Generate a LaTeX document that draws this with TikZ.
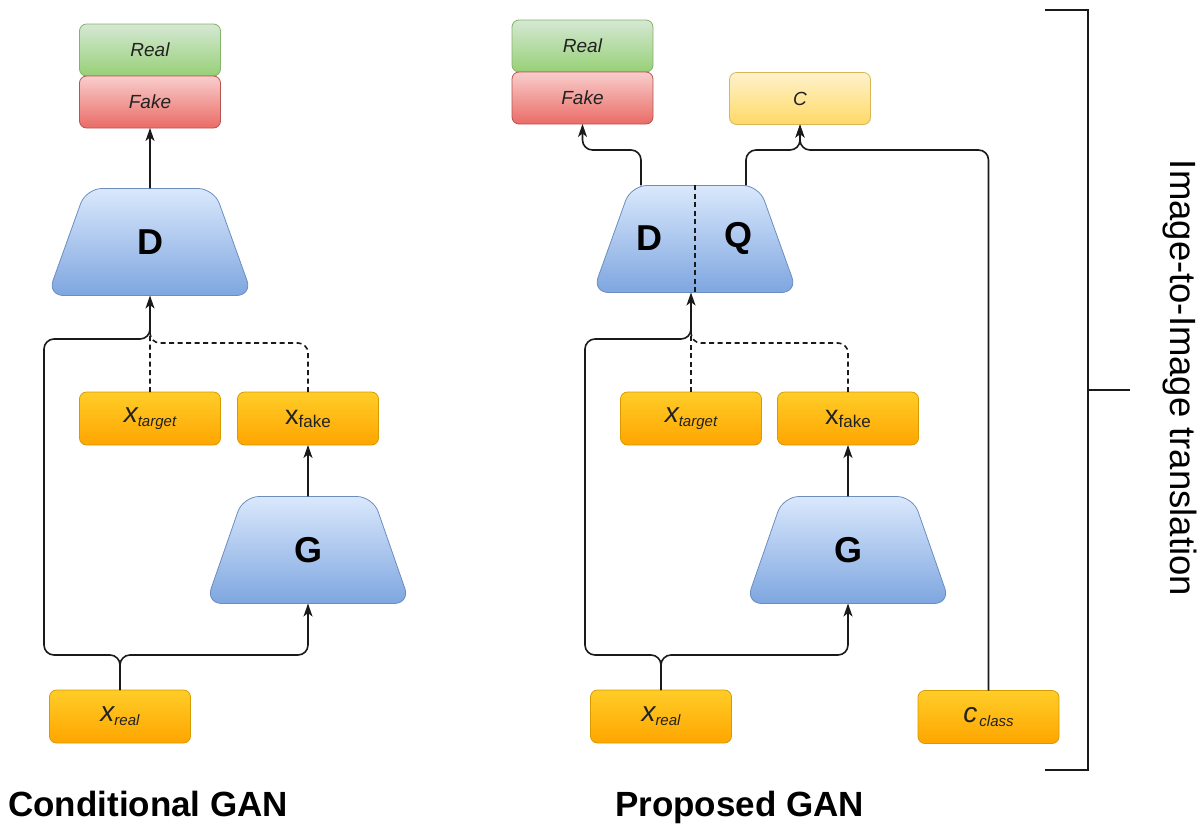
\documentclass[tikz,border=0pt]{standalone}
\usepackage{fontspec}
\setmainfont{Liberation Sans}
\usetikzlibrary{arrows.meta,shapes.geometric}

\definecolor{grnTop}{HTML}{D5E8D4}
\definecolor{grnBot}{HTML}{97D077}
\definecolor{grnLine}{HTML}{82B366}
\definecolor{redTop}{HTML}{F8CECC}
\definecolor{redBot}{HTML}{EA6B66}
\definecolor{redLine}{HTML}{B85450}
\definecolor{bluTop}{HTML}{DAE8FC}
\definecolor{bluBot}{HTML}{7EA6E0}
\definecolor{bluLine}{HTML}{6C8EBF}
\definecolor{orTop}{HTML}{FFCD28}
\definecolor{orBot}{HTML}{FFA500}
\definecolor{orLine}{HTML}{D79B00}
\definecolor{ylwTop}{HTML}{FFF2CC}
\definecolor{ylwBot}{HTML}{FFD966}
\definecolor{ylwLine}{HTML}{D6B656}
\definecolor{wireCol}{HTML}{1A1A1A}
\definecolor{txtCol}{HTML}{222222}

\newcommand\myfs[1]{\fontsize{#1}{#1}\selectfont}
% italic variable with a lowered italic subscript
\newcommand\ivar[2]{{\myfs{28}\itshape #1}{\myfs{15}\itshape\raisebox{-4pt}{#2}}}

\begin{document}
\begin{tikzpicture}[x=1pt,y=-1pt,
  box/.style={rectangle, rounded corners=7pt, minimum width=141pt, minimum height=52pt,
    inner sep=0pt, outer sep=0pt, line width=0.8pt, text=txtCol},
  greenbox/.style={box, draw=grnLine, top color=grnTop, bottom color=grnBot, font=\myfs{19}\itshape},
  redbox/.style={box, draw=redLine, top color=redTop, bottom color=redBot, font=\myfs{19}\itshape},
  yellowbox/.style={box, draw=ylwLine, top color=ylwTop, bottom color=ylwBot, font=\myfs{19}\itshape},
  orangebox/.style={box, minimum height=53pt, draw=orLine, top color=orTop, bottom color=orBot},
  trap/.style={trapezium, trapezium stretches=true, trapezium left angle=72.5,
    trapezium right angle=72.5, minimum width=205pt, minimum height=107pt,
    inner sep=0pt, outer sep=0pt, rounded corners=16pt, line width=0.8pt,
    draw=bluLine, top color=bluTop, bottom color=bluBot, font=\myfs{36}\bfseries},
  wire/.style={draw=wireCol, line width=1.6pt, rounded corners=10pt},
  arr/.style={-{Stealth[length=13pt,width=9pt,inset=3.5pt]}},
  dashline/.style={dash pattern=on 5pt off 3.5pt},
  title/.style={font=\myfs{35}\bfseries, anchor=base west, inner sep=0pt},
]
\useasboundingbox (0,0) rectangle (1203,823);

%% ---------------- Conditional GAN ----------------
\node[greenbox] (realL) at (150,50) {Real};
\node[redbox]   (fakeL) at (150,102) {Fake};
\node[trap]     (D)     at (150,242) {D};
\node[orangebox] (xtargetL) at (150,418.5) {\ivar{x}{target}};
\node[orangebox] (xfakeL)   at (308,418.5) {{\myfs{27}x}{\myfs{17}\raisebox{-3pt}{fake}}};
\node[trap]     (G)     at (308,550) {G};
\node[orangebox] (xrealL)   at (120,716.5) {\ivar{x}{real}};

\coordinate (railL) at (44,655);
\coordinate (upL)   at (44,339);
\coordinate (dashL) at (0,343);

\draw[wire,arr] (D.north) -- (fakeL.south);
\draw[wire,arr] (G.north) -- (xfakeL.south);
\draw[wire,arr] (xrealL.north) -- (xrealL.north |- railL) -- (railL) -- (upL)
  -- (D.south |- upL) -- (D.south);
\draw[wire,arr] (xrealL.north) -- (xrealL.north |- railL) -- (G.south |- railL) -- (G.south);
\draw[wire,dashline] (xtargetL.north) -- ([yshift=-18pt]D.south);
\draw[wire,dashline] (xfakeL.north) -- (xfakeL.north |- dashL) -- (D.south |- dashL)
  -- ([yshift=-18pt]D.south);

\node[title] (titleL) at (8,816) {Conditional GAN};

%% ---------------- Proposed GAN ----------------
\node[greenbox]  (realR) at (582.5,46) {Real};
\node[redbox]    (fakeR) at (582.5,98) {Fake};
\node[yellowbox] (C)     at (800,98.5) {C};
\node[trap]      (DQ)    at (695,239) {\phantom{D}};
\node[font=\myfs{36}\bfseries] (dLab) at (649,238) {D};
\node[font=\myfs{36}\bfseries] (qLab) at (738,238) {Q};
\draw[wireCol, line width=1.2pt, dashline] (DQ.north) -- (DQ.south);
\node[orangebox] (xtargetR) at (691,418.5) {\ivar{x}{target}};
\node[orangebox] (xfakeR)   at (848,418.5) {{\myfs{27}x}{\myfs{17}\raisebox{-3pt}{fake}}};
\node[trap]      (GR)       at (848,550) {G};
\node[orangebox] (xrealR)   at (661,716.5) {\ivar{x}{real}};
\node[orangebox] (cclass)   at (988.5,717) {{\myfs{28}\itshape c}\hspace{2pt}{\myfs{15}\itshape\raisebox{-4pt}{class}}};

\coordinate (busR)  at (0,150);
\coordinate (dOut)  at ([xshift=-54pt]DQ.north);
\coordinate (qOut)  at ([xshift=51pt]DQ.north);
\coordinate (dqIn)  at (xtargetR.north |- DQ.south);
\coordinate (railR) at (585,655);
\coordinate (upR)   at (585,339);

\draw[wire,arr] (dOut) -- (dOut |- busR) -- (fakeR.south |- busR) -- (fakeR.south);
\draw[wire,arr] (qOut) -- (qOut |- busR) -- (C.south |- busR) -- (C.south);
\draw[wire,arr] (cclass.north) -- (cclass.north |- busR) -- (C.south |- busR) -- (C.south);
\draw[wire,arr] (GR.north) -- (xfakeR.south);
\draw[wire,arr] (xrealR.north) -- (xrealR.north |- railR) -- (railR) -- (upR)
  -- (dqIn |- upR) -- (dqIn);
\draw[wire,arr] (xrealR.north) -- (xrealR.north |- railR) -- (GR.south |- railR) -- (GR.south);
\draw[wire,dashline] (xtargetR.north) -- ([yshift=-18pt]dqIn);
\draw[wire,dashline] (xfakeR.north) -- (xfakeR.north |- dashL) -- (dqIn |- dashL)
  -- ([yshift=-18pt]dqIn);

\node[title] (titleR) at (615,816) {Proposed GAN};

%% ---------------- bracket ----------------
\coordinate (brTopL) at (1045,10);
\coordinate (brTopR) at (1088,10);
\coordinate (brBotR) at (1088,770);
\coordinate (brBotL) at (1045,770);
\coordinate (brMid)  at (1088,390);
\coordinate (brTick) at (1130,390);
\draw[wireCol, line width=2pt] (brTopL) -- (brTopR) -- (brBotR) -- (brBotL);
\draw[wireCol, line width=2pt] (brMid) -- (brTick);
\node[rotate=-90, font=\myfs{36.5}, inner sep=0pt] (i2i) at (1180,378) {Image-to-Image translation};
\end{tikzpicture}
\end{document}
